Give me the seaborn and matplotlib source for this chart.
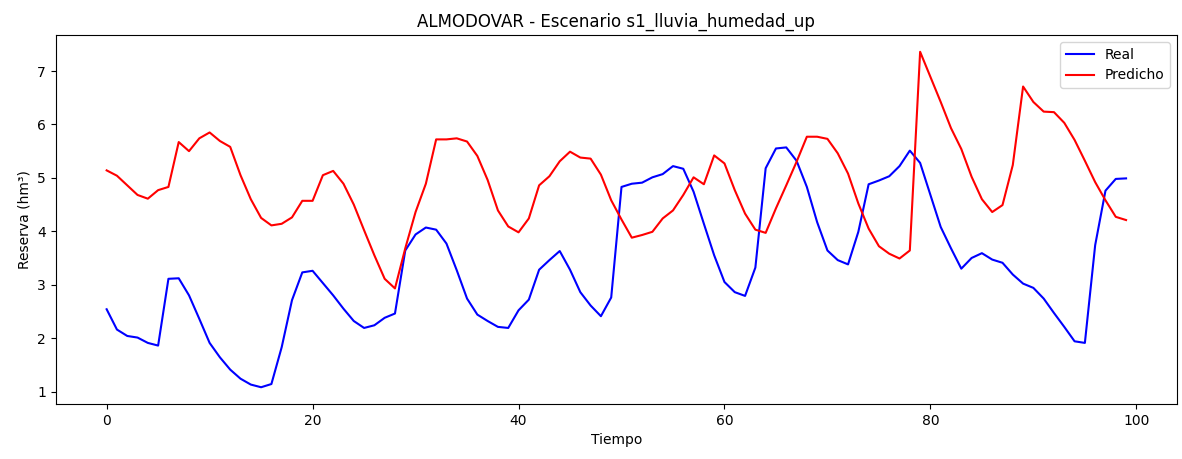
import matplotlib
matplotlib.use("Agg")
import matplotlib.pyplot as plt
import seaborn as sns
import numpy as np

tiempo = list(range(100))

real = [2.54, 2.16, 2.04, 2.01, 1.91, 1.86, 3.11, 3.12, 2.80, 2.36,
        1.91, 1.64, 1.41, 1.24, 1.13, 1.08, 1.14, 1.83, 2.71, 3.23,
        3.26, 3.03, 2.80, 2.55, 2.32, 2.19, 2.24, 2.38, 2.46, 3.64,
        3.94, 4.07, 4.03, 3.77, 3.27, 2.74, 2.44, 2.32, 2.21, 2.19,
        2.52, 2.72, 3.28, 3.46, 3.63, 3.28, 2.86, 2.61, 2.41, 2.76,
        4.83, 4.89, 4.91, 5.01, 5.07, 5.22, 5.17, 4.74, 4.14, 3.55,
        3.05, 2.86, 2.79, 3.32, 5.18, 5.55, 5.57, 5.32, 4.83, 4.17,
        3.64, 3.46, 3.38, 3.99, 4.88, 4.95, 5.03, 5.22, 5.51, 5.28,
        4.68, 4.08, 3.68, 3.30, 3.50, 3.59, 3.47, 3.41, 3.19, 3.02,
        2.94, 2.74, 2.47, 2.21, 1.94, 1.91, 3.74, 4.76, 4.98, 4.99]

predicho = [5.14, 5.04, 4.86, 4.68, 4.61, 4.77, 4.83, 5.67, 5.50, 5.74,
            5.85, 5.69, 5.58, 5.05, 4.60, 4.25, 4.11, 4.14, 4.26, 4.57,
            4.57, 5.05, 5.13, 4.89, 4.50, 4.02, 3.55, 3.11, 2.93, 3.68,
            4.36, 4.89, 5.72, 5.72, 5.74, 5.68, 5.41, 4.96, 4.39, 4.09,
            3.98, 4.24, 4.86, 5.03, 5.31, 5.49, 5.38, 5.36, 5.06, 4.58,
            4.22, 3.88, 3.93, 3.99, 4.24, 4.39, 4.68, 5.01, 4.88, 5.42,
            5.27, 4.77, 4.33, 4.03, 3.97, 4.43, 4.86, 5.30, 5.77, 5.77,
            5.73, 5.46, 5.08, 4.52, 4.05, 3.72, 3.58, 3.49, 3.64, 7.36,
            6.89, 6.42, 5.93, 5.54, 5.02, 4.60, 4.36, 4.49, 5.24, 6.71,
            6.42, 6.24, 6.23, 6.03, 5.71, 5.32, 4.92, 4.58, 4.27, 4.21]

title = "ALMODOVAR - Escenario s1_lluvia_humedad_up"

fig, ax = plt.subplots(figsize=(11.82, 4.59), dpi=100)
sns.lineplot(x=tiempo, y=real, ax=ax, color="blue", label="Real", linewidth=1.5)
sns.lineplot(x=tiempo, y=predicho, ax=ax, color="red", label="Predicho", linewidth=1.5)
ax.set_title(title, fontsize=12)
ax.set_xlabel("Tiempo")
ax.set_ylabel("Reserva (hm³)")
ax.legend(loc="upper right")
fig.subplots_adjust(left=0.0471, right=0.9958, top=0.9237, bottom=0.1198)
fig.savefig("out.png", dpi=100)
